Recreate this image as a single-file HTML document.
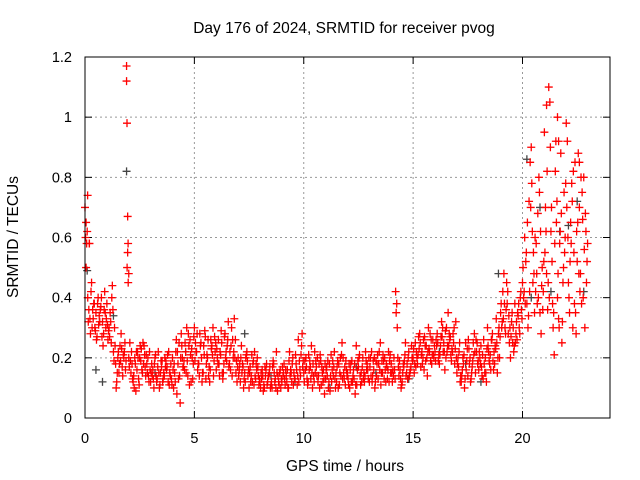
<!DOCTYPE html>
<html><head><meta charset="utf-8"><style>
body{margin:0;background:#fff}
svg{display:block;font-family:"Liberation Sans",sans-serif}
</style></head><body>
<svg id="chart" width="640" height="480">
<text x="344" y="33" text-anchor="middle" font-size="15.5">Day 176 of 2024, SRMTID for receiver pvog</text>
<text x="345" y="471" text-anchor="middle" font-size="15.5">GPS time / hours</text>
<text x="18" y="237" text-anchor="middle" font-size="15.5" transform="rotate(-90 18 237)">SRMTID / TECUs</text>
<g id="grid"></g><g id="ticks"></g><g id="pts"></g>
<rect x="85" y="57" width="525" height="361" fill="none" stroke="#000"/>
</svg>
<script>
const xTicks=[0,5,10,15,20];
const yTicks=[0,0.2,0.4,0.6,0.8,1,1.2];
const yLabels=["0","0.2","0.4","0.6","0.8","1","1.2"];
const redA=[.70,.62,.58,.45,.38,.35,.40,.36,.32,.42,
.38,.30,.25,.22,.18,.20,.24,.17,.22,1.17,
.20,.15,.12,.18,.22,.20,.16,.24,.21,.14,
.12,.16,.20,.13,.10,.17,.15,.19,.12,.14,
.20,.15,.08,.25,.28,.17,.22,.14,.26,.20,
.30,.22,.18,.25,.15,.27,.20,.12,.24,.19,
.16,.26,.21,.13,.28,.24,.18,.30,.22,.15,
.20,.12,.18,.15,.22,.10,.14,.19,.13,.17,
.12,.16,.10,.18,.14,.11,.19,.13,.09,.15,
.12,.18,.14,.10,.16,.20,.13,.11,.19,.24,
.15,.20,.12,.17,.10,.22,.14,.18,.11,.16,
.13,.19,.09,.16,.22,.12,.18,.14,.20,.11,
.15,.10,.19,.13,.24,.17,.11,.20,.14,.18,
.12,.22,.16,.19,.13,.25,.15,.20,.17,.12,
.18,.14,.42,.20,.16,.12,.19,.15,.22,.17,
.20,.25,.18,.28,.22,.16,.24,.30,.19,.26,
.22,.28,.18,.32,.25,.20,.35,.27,.22,.18,
.15,.22,.12,.18,.25,.14,.20,.17,.28,.22,
.16,.24,.13,.20,.30,.18,.26,.22,.33,.28,
.35,.42,.30,.38,.25,.32,.22,.28,.34,.40,
.45,.60,.38,.72,.90,.55,.42,.68,.35,.50,
.95,.48,1.10,.62,.30,.82,.40,.58,.25,.75,
.98,.45,.65,.30,.85,.52,.70,.38,.80,.62];
const redB=[.50,.32,.28,.36,.30,.27,.34,.40,.28,.30,
.26,.35,.44,.30,.12,.15,.28,.21,.16,.55,
.25,.18,.10,.22,.13,.19,.25,.17,.15,.22,
.18,.10,.14,.22,.15,.12,.20,.17,.11,.13,
.10,.22,.18,.05,.20,.16,.30,.24,.12,.18,
.25,.16,.28,.12,.21,.18,.14,.26,.30,.22,
.20,.14,.25,.18,.22,.32,.16,.26,.20,.12,
.16,.24,.10,.20,.14,.17,.12,.22,.16,.11,
.15,.09,.14,.12,.17,.10,.15,.22,.12,.10,
.14,.11,.16,.22,.12,.15,.18,.26,.14,.17,
.19,.13,.16,.24,.14,.19,.12,.21,.15,.08,
.17,.12,.21,.14,.10,.19,.15,.25,.13,.16,
.11,.18,.14,.08,.16,.21,.12,.15,.19,.13,
.20,.14,.10,.18,.22,.15,.19,.12,.16,.21,
.12,.16,.38,.14,.10,.18,.25,.13,.15,.20,
.15,.22,.27,.17,.20,.24,.14,.22,.18,.20,
.26,.19,.24,.30,.16,.22,.28,.19,.25,.32,
.20,.12,.16,.10,.19,.23,.13,.25,.15,.18,
.20,.14,.18,.12,.22,.16,.19,.24,.15,.20,
.30,.48,.36,.28,.20,.25,.38,.26,.30,.36,
.40,.52,.30,.85,.62,.35,.48,.80,.28,.42,
.70,.36,1.05,.52,.21,.65,.33,.88,.45,.60,
.92,.35,.78,.55,.28,.88,.48,.66,.30,.52];
const redC=[.60,.40,.33,.30,.38,.26,.31,.37,.24,.35,
.31,.27,.40,.19,.10,.22,.19,.14,.25,.50,
.17,.22,.14,.09,.20,.24,.15,.21,.18,.12,
.15,.13,.21,.17,.11,.19,.14,.16,.22,.18,
.16,.12,.22,.14,.24,.19,.15,.28,.21,.13,
.19,.28,.14,.20,.24,.13,.26,.16,.21,.27,
.23,.18,.29,.15,.20,.26,.22,.14,.33,.19,
.14,.20,.17,.12,.19,.15,.21,.11,.18,.14,
.10,.14,.17,.11,.15,.12,.18,.10,.14,.16,
.17,.13,.12,.19,.15,.11,.21,.14,.16,.28,
.12,.17,.21,.13,.18,.15,.20,.10,.17,.13,
.16,.10,.14,.19,.13,.17,.11,.21,.15,.19,
.13,.16,.12,.18,.11,.20,.15,.13,.22,.16,
.17,.12,.20,.14,.18,.11,.21,.16,.13,.19,
.15,.20,.35,.17,.13,.15,.21,.18,.14,.24,
.23,.17,.21,.25,.18,.27,.20,.23,.26,.21,
.19,.25,.21,.27,.22,.30,.24,.21,.28,.23,
.18,.25,.14,.21,.16,.26,.12,.19,.22,.25,
.22,.17,.26,.15,.24,.21,.28,.18,.25,.30,
.38,.33,.28,.42,.30,.35,.24,.32,.38,.42,
.50,.38,.65,.42,.78,.48,.58,.40,.62,.36,
.55,.82,.40,.70,.35,.92,.48,.62,.32,.55,
.70,.40,.58,.82,.35,.65,.42,.75,.56,.45];
const redD=[.58,.36,.42,.33,.29,.38,.32,.27,.36,.33,
.29,.32,.36,.24,.15,.18,.23,.20,.19,.45,
.19,.13,.20,.16,.11,.23,.18,.14,.20,.16,
.14,.18,.12,.15,.19,.13,.17,.21,.15,.11,
.18,.26,.13,.20,.17,.25,.19,.11,.23,.27,
.22,.18,.24,.15,.29,.21,.17,.23,.14,.25,
.18,.22,.15,.27,.19,.17,.24,.20,.26,.17,
.18,.15,.13,.21,.16,.12,.18,.14,.20,.13,
.13,.11,.16,.14,.10,.17,.12,.15,.11,.13,
.15,.16,.10,.14,.18,.13,.16,.12,.21,.19,
.16,.11,.19,.15,.12,.17,.14,.19,.12,.18,
.14,.18,.12,.17,.15,.10,.20,.13,.17,.14,
.18,.12,.16,.11,.19,.14,.17,.12,.16,.20,
.14,.19,.12,.21,.16,.19,.13,.18,.22,.15,
.16,.13,.30,.19,.11,.17,.14,.20,.16,.19,
.18,.20,.23,.21,.26,.19,.22,.28,.21,.24,
.24,.21,.27,.22,.29,.24,.26,.23,.30,.20,
.17,.14,.20,.13,.23,.18,.15,.21,.26,.19,
.18,.21,.15,.23,.19,.26,.16,.23,.20,.27,
.32,.38,.45,.34,.27,.30,.25,.35,.28,.33,
.42,.55,.34,.70,.45,.60,.38,.75,.44,.52,
.62,.45,.90,.38,.58,.72,.30,.68,.50,.78,
.60,.52,.72,.38,.62,.48,.80,.40,.68,.58];
const redExtraT=[0.05,0.12,0.2,1.9,1.92,1.95,1.97,2.0,21.1,21.6,21.65,22.6];
const redExtraV=[0.65,0.74,0.58,1.12,0.98,0.67,0.58,0.48,1.04,1.0,0.92,0.85];
const grayT=[0.1,0.5,0.8,1.3,1.9,3.2,4.6,6.1,7.3,8.5,9.6,11.2,12.4,13.3,14.8,16.2,17.4,18.1,18.9,20.2,20.4,20.8,21.3,21.7,22.1,22.5,22.8];
const grayV=[0.49,0.16,0.12,0.34,0.82,0.15,0.22,0.18,0.28,0.14,0.12,0.10,0.17,0.15,0.13,0.22,0.18,0.12,0.48,0.86,0.40,0.70,0.42,0.62,0.64,0.72,0.42];

const X=v=>85+v*525/24, Y=v=>418-v*361/1.2;
const NS="http://www.w3.org/2000/svg";
function mk(tag,attrs,parent){const e=document.createElementNS(NS,tag);for(const k in attrs)e.setAttribute(k,attrs[k]);document.getElementById(parent).appendChild(e);return e;}
xTicks.forEach(t=>{
  const gl=mk('line',{x1:X(t),x2:X(t),y1:57,y2:418,stroke:'#999','stroke-dasharray':'2,3'},'grid');
  
  
  mk('line',{x1:X(t),x2:X(t),y1:418,y2:411,stroke:'#000'},'ticks');
  mk('line',{x1:X(t),x2:X(t),y1:57,y2:64,stroke:'#000'},'ticks');
  const tx=mk('text',{x:X(t),y:443,'text-anchor':'middle','font-size':14.5},'ticks');
  tx.textContent=t;
  
  
});
yTicks.forEach((t,i)=>{
  const gl=mk('line',{x1:85,x2:610,y1:Y(t),y2:Y(t),stroke:'#999','stroke-dasharray':'2,3'},'grid');
  
  
  mk('line',{x1:85,x2:92,y1:Y(t),y2:Y(t),stroke:'#000'},'ticks');
  mk('line',{x1:610,x2:603,y1:Y(t),y2:Y(t),stroke:'#000'},'ticks');
  const tx=mk('text',{x:72,y:Y(t)+5,'text-anchor':'end','font-size':14.5},'ticks');
  tx.textContent=yLabels[i];
  
  
});
function plus(t,v,c,name){
  const x=X(t),y=Y(v);
  const p=mk('path',{d:`M${x-4} ${y}H${x+4}M${x} ${y-4}V${y+4}`,stroke:c,'stroke-width':1.3,fill:'none'},'pts');
  
  
}
grayV.forEach((v,i)=>plus(grayT[i],v,'#444','gray-point'));
redA.forEach((v,i)=>plus(i*0.1,v,'#f00','red-point'));
redB.forEach((v,i)=>plus(i*0.1+0.05,v,'#f00','red-point'));
redC.forEach((v,i)=>plus(i*0.1+0.025,v,'#f00','red-point'));
redD.forEach((v,i)=>plus(i*0.1+0.075,v,'#f00','red-point'));
redExtraV.forEach((v,i)=>plus(redExtraT[i],v,'#f00','red-point'));
</script>
</body></html>
